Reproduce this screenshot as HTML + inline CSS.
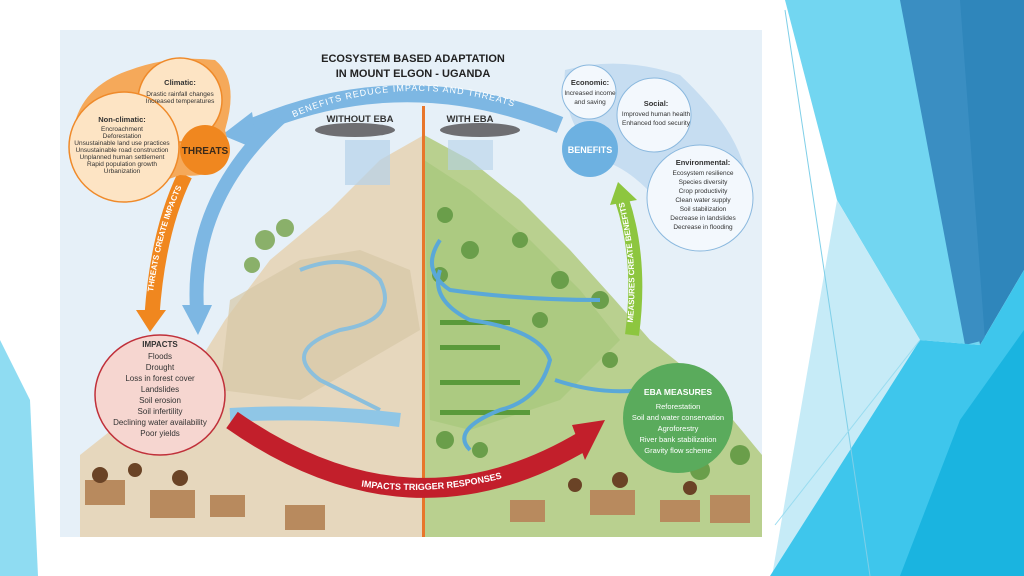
<!DOCTYPE html>
<html><head><meta charset="utf-8"><style>
html,body{margin:0;padding:0;width:1024px;height:576px;overflow:hidden;background:#fff}
svg{display:block}
text{font-family:"Liberation Sans",sans-serif}
</style></head><body>
<svg width="1024" height="576" viewBox="0 0 1024 576" xmlns="http://www.w3.org/2000/svg">
<defs>
<path id="arcTop" d="M250,140 Q400,50 560,125"/>
<path id="arcRed" d="M225,440 Q410,540 600,440"/>
<path id="arcOr" d="M152,300 Q160,230 185,180"/>
<path id="arcGr" d="M632,330 Q640,260 622,195"/>
</defs>
<polygon points="0,340 30,400 38,576 0,576" fill="#8fdcf2"/>
<polygon points="785,0 920,0 980,345 920,340 837,200" fill="#72d6f1"/>
<polygon points="920,0 1024,0 1024,270 980,345" fill="#2f86bb"/>
<polygon points="900,0 960,0 985,340 965,345" fill="#3a8ec2"/>
<polygon points="837,200 920,340 800,576 772,576" fill="#c6ebf7"/>
<polygon points="770,576 920,340 980,345 1024,270 1024,576" fill="#3ec6ec"/>
<polygon points="900,576 960,420 1024,330 1024,576" fill="#1ab4e0"/>
<line x1="785" y1="10" x2="870" y2="576" stroke="#7fcfe8" stroke-width="1"/>
<line x1="775" y1="525" x2="920" y2="340" stroke="#9adcf0" stroke-width="1"/>
<rect x="60" y="30" width="702" height="507" fill="#e6f0f8"/>
<path d="M424,135 L380,160 L330,210 L270,260 L225,320 L200,360 L80,455 L80,537 L424,537 Z" fill="#e6d7bd"/>
<path d="M424,135 L470,160 L520,200 L570,250 L615,300 L650,340 L700,380 L762,455 L762,537 L424,537 Z" fill="#b9d08f"/>
<path d="M424,160 L470,190 L530,240 L580,290 L620,340 L560,400 L470,430 L430,420 Z" fill="#a6c77a" opacity="0.7"/>
<path d="M230,300 L300,260 L360,250 L410,270 L420,330 L300,400 L220,390 Z" fill="#d6c7a6" opacity="0.7"/>
<g fill="#8ab06a"><circle cx="265" cy="240" r="10"/><circle cx="285" cy="228" r="9"/><circle cx="252" cy="265" r="8"/></g>
<g fill="#6a9e4a"><circle cx="445" cy="215" r="8"/><circle cx="470" cy="250" r="9"/><circle cx="440" cy="275" r="8"/><circle cx="520" cy="240" r="8"/><circle cx="560" cy="280" r="9"/><circle cx="600" cy="300" r="9"/><circle cx="540" cy="320" r="8"/><circle cx="610" cy="360" r="8"/><circle cx="700" cy="470" r="10"/><circle cx="740" cy="455" r="10"/><circle cx="445" cy="440" r="9"/><circle cx="480" cy="450" r="8"/></g>
<g fill="#5a9a3a"><rect x="440" y="320" width="70" height="5"/><rect x="440" y="345" width="60" height="5"/><rect x="440" y="380" width="80" height="5"/><rect x="440" y="410" width="90" height="5"/></g>
<path d="M300,270 Q350,250 380,280 Q400,320 340,330 Q280,350 320,380 Q360,400 380,410" fill="none" stroke="#8bbfdc" stroke-width="4"/>
<path d="M230,415 Q320,410 400,420" fill="none" stroke="#8fc6e6" stroke-width="14"/>
<path d="M440,240 Q420,270 450,290 Q520,300 600,300 M440,270 Q430,300 470,320 Q540,330 550,360 Q540,400 500,410 Q450,430 470,450 M555,380 Q600,395 640,390" fill="none" stroke="#5aa8d8" stroke-width="4"/>
<g fill="#b88a5e"><rect x="85" y="480" width="40" height="25"/><rect x="150" y="490" width="45" height="28"/><rect x="210" y="495" width="35" height="22"/><rect x="285" y="505" width="40" height="25"/><rect x="510" y="500" width="35" height="22"/><rect x="590" y="490" width="45" height="25"/><rect x="660" y="500" width="40" height="22"/><rect x="710" y="495" width="40" height="28"/></g>
<g fill="#6a4326"><circle cx="100" cy="475" r="8"/><circle cx="135" cy="470" r="7"/><circle cx="180" cy="478" r="8"/><circle cx="575" cy="485" r="7"/><circle cx="620" cy="480" r="8"/><circle cx="690" cy="488" r="7"/></g>
<rect x="422" y="106" width="3" height="431" fill="#e8762b"/>
<ellipse cx="355" cy="130" rx="40" ry="7" fill="#6e6e72"/>
<ellipse cx="480" cy="130" rx="40" ry="7" fill="#6e6e72"/>
<rect x="345" y="140" width="45" height="45" fill="#b5d2ea" opacity="0.7"/>
<rect x="448" y="140" width="45" height="30" fill="#b5d2ea" opacity="0.6"/>
<text x="360" y="122" font-size="9.5" font-weight="bold" text-anchor="middle" fill="#333">WITHOUT EBA</text>
<text x="470" y="122" font-size="9.5" font-weight="bold" text-anchor="middle" fill="#333">WITH EBA</text>
<text x="413" y="62" font-size="11" font-weight="bold" text-anchor="middle" fill="#222">ECOSYSTEM BASED ADAPTATION</text>
<text x="413" y="77" font-size="11" font-weight="bold" text-anchor="middle" fill="#222">IN MOUNT ELGON - UGANDA</text>
<path d="M560,125 Q400,60 245,130" fill="none" stroke="#7db7e3" stroke-width="17"/>
<polygon points="222,135 252,112 258,150" fill="#7db7e3"/>
<path d="M280,118 Q190,200 197,310" fill="none" stroke="#7db7e3" stroke-width="14"/>
<polygon points="182,305 212,305 198,335" fill="#7db7e3"/>
<text font-size="9" fill="#fff" letter-spacing="1"><textPath href="#arcTop" startOffset="50%" text-anchor="middle">BENEFITS  REDUCE  IMPACTS  AND  THREATS</textPath></text>
<path d="M152,315 Q158,230 185,175" fill="none" stroke="#f0871f" stroke-width="15"/>
<polygon points="136,310 166,310 150,332" fill="#f0871f"/>
<text font-size="8" fill="#fff" font-weight="bold"><textPath href="#arcOr" startOffset="50%" text-anchor="middle">THREATS CREATE IMPACTS</textPath></text>
<path d="M632,335 Q642,260 622,200" fill="none" stroke="#8dc63f" stroke-width="14"/>
<polygon points="610,205 637,200 618,182" fill="#8dc63f"/>
<text font-size="8" fill="#fff" font-weight="bold"><textPath href="#arcGr" startOffset="50%" text-anchor="middle">MEASURES CREATE BENEFITS</textPath></text>
<path d="M215,60 Q240,80 225,130 L230,150 Q220,180 180,175 Q90,210 72,150 Q70,90 130,70 Q170,55 215,60Z" fill="#f5a95a"/>
<circle cx="180" cy="100" r="42" fill="#fde4c4" stroke="#ef8a2a" stroke-width="1.5"/>
<circle cx="124" cy="147" r="55" fill="#fde4c4" stroke="#ef8a2a" stroke-width="1.5"/>
<circle cx="205" cy="150" r="25" fill="#f0871f"/>
<text x="205" y="154" font-size="10" font-weight="bold" text-anchor="middle" fill="#3a2a1a">THREATS</text>
<g font-size="6.5" text-anchor="middle" fill="#333">
<text x="180" y="85" font-weight="bold" font-size="7.5">Climatic:</text>
<text x="180" y="96">Drastic rainfall changes</text><text x="180" y="103">Increased temperatures</text>
<text x="122" y="122" font-weight="bold" font-size="7.5">Non-climatic:</text>
<text x="122" y="131">Encroachment</text><text x="122" y="138">Deforestation</text>
<text x="122" y="145">Unsustainable land use practices</text><text x="122" y="152">Unsustainable road construction</text>
<text x="122" y="159">Unplanned human settlement</text><text x="122" y="166">Rapid population growth</text><text x="122" y="173">Urbanization</text>
</g>
<path d="M565,70 Q620,55 680,75 Q760,150 745,210 Q720,260 680,230 Q640,170 600,160 Q560,120 565,70Z" fill="#c6ddf1"/>
<circle cx="589" cy="92" r="27" fill="#f3f8fd" stroke="#8ab8de"/>
<circle cx="654" cy="115" r="37" fill="#f3f8fd" stroke="#8ab8de"/>
<circle cx="700" cy="198" r="53" fill="#f3f8fd" stroke="#8ab8de"/>
<circle cx="590" cy="149" r="28" fill="#6db1e1"/>
<text x="590" y="153" font-size="9" font-weight="bold" text-anchor="middle" fill="#fff">BENEFITS</text>
<g font-size="6.5" text-anchor="middle" fill="#333">
<text x="590" y="85" font-weight="bold" font-size="7.5">Economic:</text><text x="590" y="95">Increased income</text><text x="590" y="104">and saving</text>
<text x="656" y="106" font-weight="bold" font-size="7.5">Social:</text><text x="656" y="116">Improved human health</text><text x="656" y="125">Enhanced food security</text>
<text x="703" y="165" font-weight="bold" font-size="7.5">Environmental:</text>
<text x="703" y="175">Ecosystem resilience</text><text x="703" y="184">Species diversity</text><text x="703" y="193">Crop productivity</text><text x="703" y="202">Clean water supply</text><text x="703" y="211">Soil stabilization</text><text x="703" y="220">Decrease in landslides</text><text x="703" y="229">Decrease in flooding</text>
</g>
<ellipse cx="160" cy="395" rx="65" ry="60" fill="#f6d6d0" stroke="#c0303a" stroke-width="1.5"/>
<g font-size="8" text-anchor="middle" fill="#333">
<text x="160" y="347" font-weight="bold">IMPACTS</text>
<text x="160" y="359">Floods</text><text x="160" y="370">Drought</text><text x="160" y="381">Loss in forest cover</text><text x="160" y="392">Landslides</text><text x="160" y="403">Soil erosion</text><text x="160" y="414">Soil infertility</text><text x="160" y="425">Declining water availability</text><text x="160" y="436">Poor yields</text>
</g>
<circle cx="678" cy="418" r="55" fill="#5aab5c"/>
<g font-size="7.5" text-anchor="middle" fill="#fff">
<text x="678" y="395" font-weight="bold" font-size="8.5">EBA MEASURES</text>
<text x="678" y="409">Reforestation</text><text x="678" y="420">Soil and water conservation</text><text x="678" y="431">Agroforestry</text><text x="678" y="442">River bank stabilization</text><text x="678" y="453">Gravity flow scheme</text>
</g>
<path d="M232,420 Q410,545 585,440" fill="none" stroke="#c21f2b" stroke-width="20"/>
<polygon points="572,425 605,420 585,460" fill="#c21f2b"/>
<text font-size="9" fill="#fff" font-weight="bold"><textPath href="#arcRed" startOffset="55%" text-anchor="middle">IMPACTS  TRIGGER  RESPONSES</textPath></text>
</svg>
</body></html>
